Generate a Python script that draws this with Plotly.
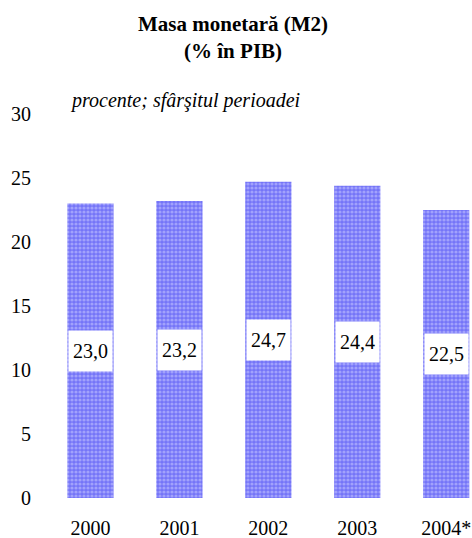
import plotly.graph_objects as go

years = ["2000", "2001", "2002", "2003", "2004*"]
m2_share = [23.0, 23.2, 24.7, 24.4, 22.5]
y_ticks = [0, 5, 10, 15, 20, 25, 30]

FONT = "Liberation Serif, DejaVu Serif, serif"

fig = go.Figure(
    go.Bar(
        x=years,
        y=m2_share,
        marker=dict(
            color="#7c7cfa",
            line=dict(width=0),
            pattern=dict(
                shape=".",
                bgcolor="#7474f8",
                fgcolor="#cfcfff",
                size=4,
                solidity=0.5,
            ),
        ),
        hoverinfo="skip",
    )
)

# value labels sit in white boxes in the middle of each bar
for i, value in enumerate(m2_share):
    fig.add_annotation(
        x=i,
        y=value / 2,
        text=f"{value:.1f}".replace(".", ","),
        showarrow=False,
        bgcolor="white",
        width=37,
        height=34,
        borderpad=3,
        font=dict(family=FONT, size=20, color="black"),
    )

fig.add_annotation(
    text="<b>Masa monetară (M2)<br>(% în PIB)</b>",
    xref="paper",
    yref="paper",
    x=0.44,
    y=1.198,
    xanchor="center",
    yanchor="middle",
    showarrow=False,
    font=dict(family=FONT, size=21, color="black"),
)

fig.add_annotation(
    text="<i>procente; sfârşitul perioadei</i>",
    xref="paper",
    yref="paper",
    x=0.052,
    y=1.036,
    xanchor="left",
    yanchor="middle",
    showarrow=False,
    font=dict(family=FONT, size=20, color="black"),
)

fig.update_layout(
    width=472,
    height=538,
    paper_bgcolor="white",
    plot_bgcolor="white",
    margin=dict(l=46, r=0, t=114, b=40),
    bargap=0.48,
    showlegend=False,
    font=dict(family=FONT, size=20, color="black"),
    xaxis=dict(
        type="category",
        range=[-0.5, 4.29],
        showgrid=False,
        showline=False,
        zeroline=False,
        ticks="",
        ticklabelstandoff=16,
        automargin=False,
    ),
    yaxis=dict(
        range=[0, 30],
        tickvals=y_ticks,
        showgrid=False,
        showline=False,
        zeroline=False,
        ticks="",
        ticklabelstandoff=14,
        automargin=False,
    ),
)

# drop the default body margin so the figure fills the window exactly
fig.write_html(
    "out.html",
    config={"displayModeBar": False},
    post_script="document.body.style.margin='0';document.body.style.overflow='hidden';",
)
